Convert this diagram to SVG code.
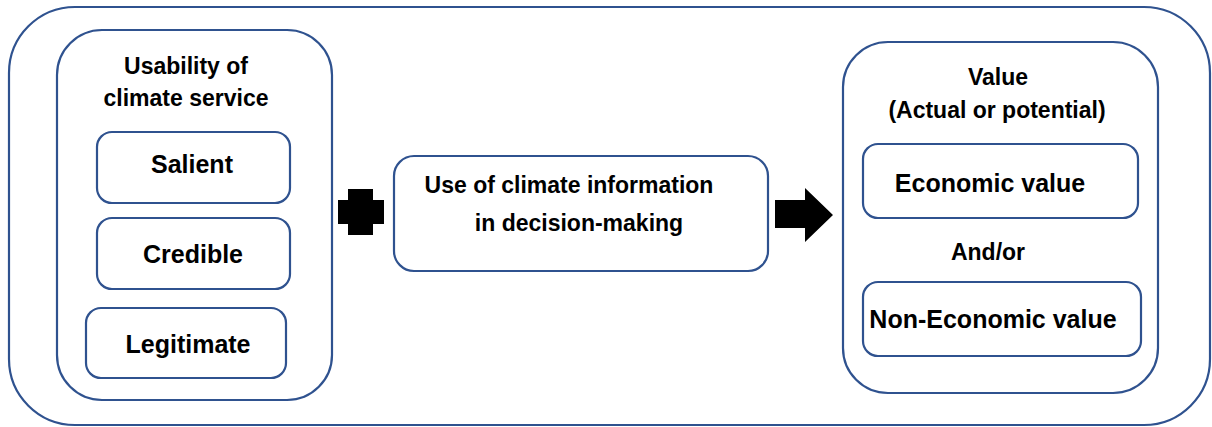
<svg xmlns="http://www.w3.org/2000/svg" width="1212" height="427" viewBox="0 0 1212 427">
<style>
.box{fill:#ffffff;stroke:#2F528F;stroke-width:2.2}
.t{font-family:"Liberation Sans",Arial,sans-serif;font-weight:bold;fill:#000;text-anchor:middle}
.s23{font-size:23px}
.s25{font-size:25px}
</style>
<rect width="1212" height="427" fill="#ffffff"/>
<g id="outer"><rect class="box" x="9" y="7" width="1201" height="418" rx="66" ry="66"/></g>
<g id="usability">
<rect class="box" x="57" y="30" width="275" height="370" rx="45" ry="45"/>
<text class="t s23" x="186" y="74">Usability of</text>
<text class="t s23" x="186" y="106">climate service</text>
</g>
<g id="salient"><rect class="box" x="97" y="132" width="193" height="71" rx="15" ry="15"/><text class="t s25" x="192" y="173">Salient</text></g>
<g id="credible"><rect class="box" x="97" y="218" width="193" height="71" rx="15" ry="15"/><text class="t s25" x="193" y="263">Credible</text></g>
<g id="legitimate"><rect class="box" x="86" y="308" width="200" height="70" rx="15" ry="15"/><text class="t s25" x="188" y="353">Legitimate</text></g>
<g id="use">
<rect class="box" x="394" y="156" width="374" height="115" rx="20" ry="20"/>
<text class="t s23" x="569" y="193">Use of climate information</text>
<text class="t s23" x="579" y="231">in decision-making</text>
</g>
<g id="value">
<rect class="box" x="843" y="42" width="315" height="351" rx="45" ry="45"/>
<text class="t s23" x="998" y="85">Value</text>
<text class="t s23" x="997" y="118">(Actual or potential)</text>
<text class="t s23" x="988" y="260">And/or</text>
</g>
<g id="economic"><rect class="box" x="863" y="144" width="275" height="74" rx="15" ry="15"/><text class="t s25" x="990" y="192">Economic value</text></g>
<g id="noneconomic"><rect class="box" x="863" y="282" width="278" height="74" rx="15" ry="15"/><text class="t s25" x="993" y="328">Non-Economic value</text></g>
<g id="connectors">
<path d="M348 189H373V200H384V224H373V235H348V224H338V200H348Z" fill="#000"/>
<path d="M775 200H805V188L833 215L805 242V228H775Z" fill="#000"/>
</g>
</svg>
